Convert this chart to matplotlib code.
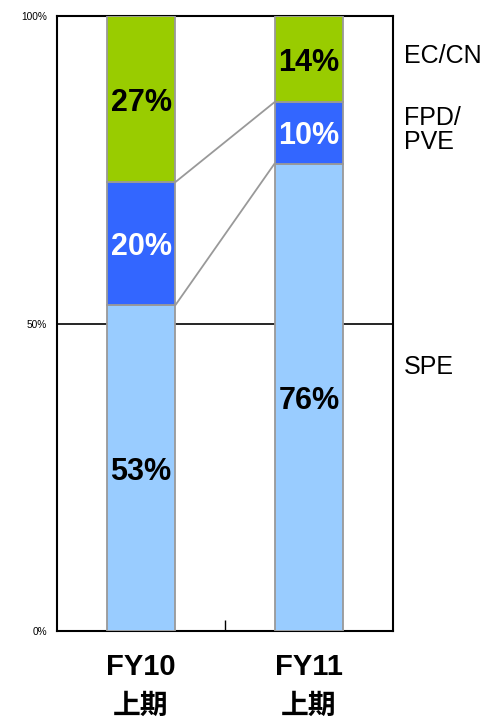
import matplotlib
matplotlib.use("Agg")
import matplotlib.pyplot as plt

periods = ["FY10", "FY11"]
halves = ["上期", "上期"]
segments = ["SPE", "FPD/\nPVE", "EC/CN"]
shares = {
    "SPE":      [53, 76],
    "FPD/\nPVE": [20, 10],
    "EC/CN":    [27, 14],
}
colors = {"SPE": "#99ccff", "FPD/\nPVE": "#3366ff", "EC/CN": "#99cc00"}
text_colors = {"SPE": "black", "FPD/\nPVE": "white", "EC/CN": "black"}
label_y = {"SPE": 43, "FPD/\nPVE": 81.5, "EC/CN": 93.5}
yticks = [0, 50, 100]
ytick_labels = ["0%", "50%", "100%"]

plt.rcParams["font.family"] = ["Liberation Sans", "Noto Sans CJK JP"]

fig = plt.figure(figsize=(4.88, 7.21), dpi=100)
ax = fig.add_axes([57 / 488, 1 - 631 / 721, 336 / 488, 615 / 721])

xs = [0.5, 1.5]
w = 0.41
bottoms = [0, 0]
tops = {}
for seg in segments:
    vals = shares[seg]
    ax.bar(xs, vals, width=w, bottom=bottoms, color=colors[seg],
           edgecolor="#999999", linewidth=1.3, zorder=3)
    for x, v, b in zip(xs, vals, bottoms):
        ax.text(x, b + v / 2, f"{v}%", ha="center", va="center_baseline", fontsize=22,
                fontweight="bold", color=text_colors[seg], zorder=4)
    bottoms = [b + v for b, v in zip(bottoms, vals)]
    tops[seg] = list(bottoms)

# connector lines between the FPD/PVE boundaries
for seg in ["SPE", "FPD/\nPVE"]:
    ax.plot([xs[0] + w / 2, xs[1] - w / 2], tops[seg], color="#999999", lw=1.3, zorder=2)

ax.axhline(50, color="black", lw=1.2, zorder=1)

ax.set_xlim(0, 2)
ax.set_ylim(0, 100)
ax.set_yticks(yticks)
ax.set_yticklabels(ytick_labels, fontsize=7.3)
ax.tick_params(axis="y", length=0, pad=7)
ax.set_xticks([1])
ax.set_xticklabels([""])
ax.tick_params(axis="x", direction="in", length=8, width=1)
for s in ax.spines.values():
    s.set_linewidth(1.5)

for x, p, h in zip(xs, periods, halves):
    ax.text(x, -5.85, p, ha="center", va="center", fontsize=21, fontweight="bold",
            clip_on=False)
    ax.text(x, -12.3, h, ha="center", va="center", fontsize=20, fontweight="bold",
            clip_on=False)

for seg in segments:
    ax.text(2.065, label_y[seg], seg, ha="left", va="center", fontsize=18,
            linespacing=1.0, clip_on=False)

fig.savefig("out.png", dpi=100)
